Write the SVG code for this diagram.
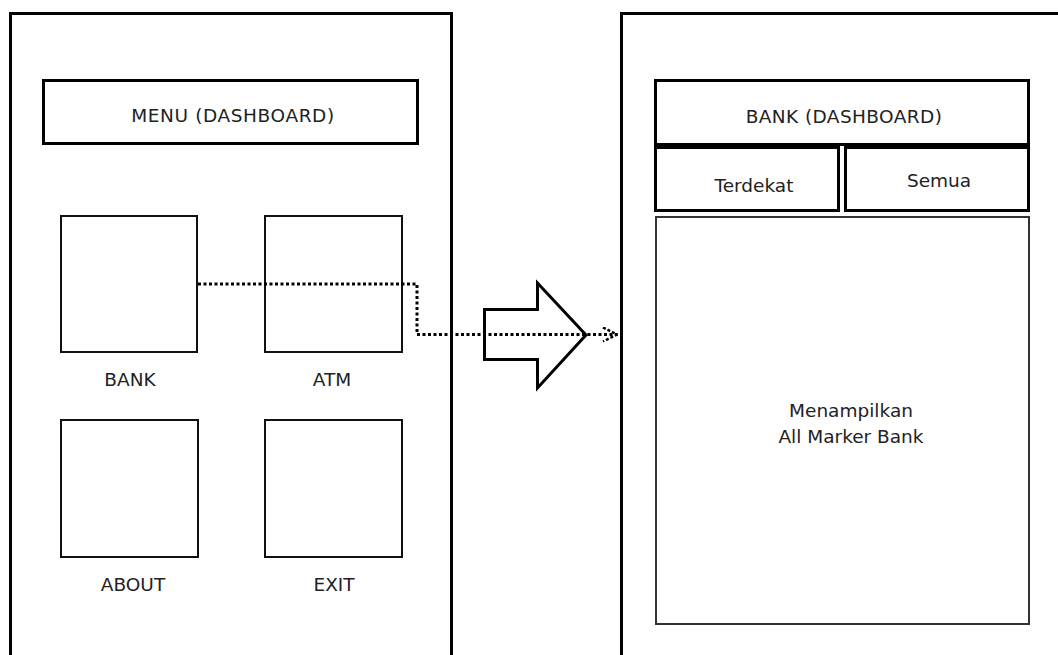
<svg xmlns="http://www.w3.org/2000/svg" width="1058" height="655" viewBox="0 0 1058 655">
<style>
.frame{fill:none;stroke:#000;stroke-width:3}
.bar{fill:#fff;stroke:#000;stroke-width:3}
.tile{fill:#fff;stroke:#111;stroke-width:2}
.map{fill:#fff;stroke:#333;stroke-width:2}
.t{font-family:"DejaVu Sans",Verdana,sans-serif;font-size:18.5px;fill:#222;text-anchor:middle}
.dot{fill:none;stroke:#000;stroke-width:3;stroke-dasharray:3 2.5}
</style>
<defs>
<marker id="chev" viewBox="0 0 16 16" refX="15" refY="8" markerWidth="16" markerHeight="16" markerUnits="userSpaceOnUse" orient="auto">
<path d="M1,1 L15,8 L1,15" fill="none" stroke="#000" stroke-width="2.5" stroke-dasharray="3 2"/>
</marker>
</defs>
<rect width="1058" height="655" fill="#fff"/>
<g id="phone-left">
<rect class="frame" x="10.5" y="13.5" width="441" height="660"/>
<g id="menu-header"><rect class="bar" x="43.5" y="80.5" width="374" height="63"/><text class="t" x="233" y="122" letter-spacing="0.6">MENU (DASHBOARD)</text></g>
<g id="tile-bank"><rect class="tile" x="61" y="216" width="136" height="136"/><text class="t" x="130" y="386">BANK</text></g>
<g id="tile-atm"><rect class="tile" x="265" y="216" width="137" height="136"/><text class="t" x="332" y="386">ATM</text></g>
<g id="tile-about"><rect class="tile" x="61" y="420" width="137" height="137"/><text class="t" x="133" y="591">ABOUT</text></g>
<g id="tile-exit"><rect class="tile" x="265" y="420" width="137" height="137"/><text class="t" x="334" y="591">EXIT</text></g>
</g>
<g id="phone-right">
<rect class="frame" x="621.5" y="13.5" width="460" height="660"/>
<g id="bank-header"><rect class="bar" x="655.5" y="80.5" width="373" height="64"/><text class="t" x="844" y="123" letter-spacing="0.4">BANK (DASHBOARD)</text></g>
<g id="tab-terdekat"><rect class="bar" x="655.5" y="147.5" width="183" height="63"/><text class="t" x="754" y="192">Terdekat</text></g>
<g id="tab-semua"><rect class="bar" x="845.5" y="147.5" width="183" height="63"/><text class="t" x="939" y="187">Semua</text></g>
<g id="map-area"><rect class="map" x="656" y="217" width="373" height="407"/><text class="t" x="851" y="417">Menampilkan</text><text class="t" x="851" y="443">All Marker Bank</text></g>
</g>
<g id="big-arrow">
<polygon points="484.5,309.5 537.5,309.5 537.5,283 586,335 537.5,388 537.5,359.5 484.5,359.5" fill="#fff" stroke="#000" stroke-width="3" stroke-linejoin="miter"/>
</g>
<g id="connectors">
<path class="dot" d="M198,284 H417 V334.5 H617" marker-end="url(#chev)"/>
</g>
</svg>
